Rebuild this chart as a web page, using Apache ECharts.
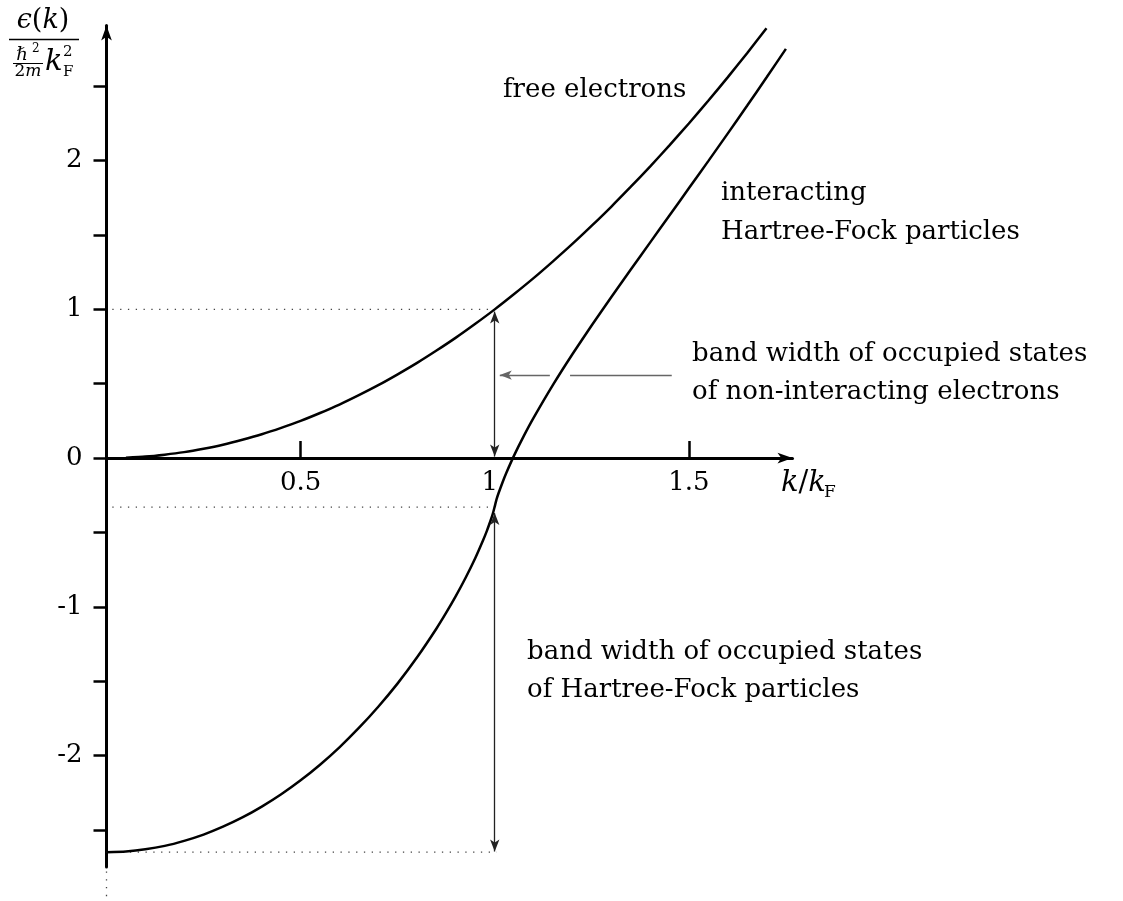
<!DOCTYPE html>
<html>
<head>
<meta charset="utf-8">
<script src="https://cdn.jsdelivr.net/npm/echarts@6/dist/echarts.min.js"></script>
<style>
html,body{margin:0;padding:0;background:#fff;}
#chart{width:1123px;height:901px;}
</style>
</head>
<body>
<div id="chart"></div>
<script>
// ---- data ----
const freeK = [0.05, 0.1, 0.15, 0.2, 0.25, 0.3, 0.35, 0.4, 0.45, 0.5, 0.55, 0.6, 0.65, 0.7, 0.75, 0.8, 0.85, 0.9, 0.95, 1.0, 1.05, 1.1, 1.15, 1.2, 1.25, 1.3, 1.35, 1.4, 1.45, 1.5, 1.55, 1.6, 1.65, 1.7];
const freeE = [0.003, 0.01, 0.023, 0.04, 0.063, 0.09, 0.123, 0.16, 0.203, 0.25, 0.303, 0.36, 0.423, 0.49, 0.563, 0.64, 0.723, 0.81, 0.903, 1.0, 1.103, 1.21, 1.323, 1.44, 1.563, 1.69, 1.823, 1.96, 2.103, 2.25, 2.403, 2.56, 2.723, 2.89];

const hfK = [0, 0.05, 0.1, 0.15, 0.2, 0.25, 0.3, 0.35, 0.4, 0.45, 0.5, 0.55, 0.6, 0.65, 0.7, 0.75, 0.8, 0.85, 0.875, 0.9, 0.925, 0.95, 0.97, 0.98, 0.99, 0.995, 1.0, 1.005, 1.01, 1.02, 1.03, 1.05, 1.075, 1.1, 1.15, 1.2, 1.25, 1.3, 1.35, 1.4, 1.45, 1.5, 1.55, 1.6, 1.65, 1.7, 1.75];
const hfE = [-2.65, -2.645, -2.631, -2.608, -2.574, -2.532, -2.479, -2.417, -2.344, -2.261, -2.167, -2.062, -1.945, -1.815, -1.672, -1.515, -1.340, -1.146, -1.040, -0.927, -0.805, -0.672, -0.553, -0.488, -0.415, -0.375, -0.325, -0.275, -0.235, -0.164, -0.099, 0.018, 0.149, 0.270, 0.492, 0.698, 0.893, 1.081, 1.266, 1.449, 1.631, 1.814, 1.997, 2.182, 2.369, 2.559, 2.752];

const xTickValues = [0.5, 1.5];
const xLabelValues = [0.5, 1, 1.5];
const yTickValues = [-2.5, -2, -1.5, -1, -0.5, 0, 0.5, 1, 1.5, 2, 2.5];
const yLabelValues = [-2, -1, 0, 1, 2];

// dotted guide lines [k, energy] endpoints
const guideFreeTop = [[0.015, 1], [0.99, 1]];
const guideHFatKF = [[0.015, -0.33], [0.985, -0.33]];
const guideHFbottom = [[0.0, -2.65], [1.005, -2.65]];
const axisExtension = [[0, -2.78], [0, -2.96]];

// arrows [k, energy] endpoints
const arrowFreeBand = [[1, 0.01], [1, 0.985]];
const arrowHFBand = [[1, -0.37], [1, -2.645]];
const pointerLevel = 0.558;
const pointerFar = [1.456, 1.194];
const pointerNear = [1.142, 1.013];

// ---- chart ----
const SERIF = '"DejaVu Serif", serif';
const zip = (a, b) => a.map((v, i) => [v, b[i]]);

const dotted = (pts) => ({
  type: 'line', data: pts, symbol: 'none', silent: true, clip: false, animation: false,
  lineStyle: { color: '#444', width: 1.3, type: [1.3, 6.5] }, z: 1
});

const chart = echarts.init(document.getElementById('chart'), null, { renderer: 'canvas' });

const option = {
  backgroundColor: '#fff',
  animation: false,
  grid: { left: 106.5, right: 330.5, top: 25.5, bottom: 34, containLabel: false },
  xAxis: {
    type: 'value', min: 0, max: 1.767,
    axisLine: { onZero: true, lineStyle: { color: '#000', width: 3 }, symbol: ['none', 'arrow'], symbolSize: [8, 15] },
    axisTick: { show: true, inside: true, length: 17, lineStyle: { color: '#000', width: 2.5 }, customValues: xTickValues },
    axisLabel: { show: false },
    splitLine: { show: false }
  },
  yAxis: {
    type: 'value', min: -2.75, max: 2.909,
    axisLine: { onZero: true, lineStyle: { color: '#000', width: 3 }, symbol: ['none', 'arrow'], symbolSize: [8, 15] },
    axisTick: { show: true, inside: false, length: 13, lineStyle: { color: '#000', width: 2.5 }, customValues: yTickValues },
    axisLabel: {
      customValues: yLabelValues, margin: 24,
      color: '#000', fontFamily: SERIF, fontSize: 26,
      formatter: v => String(v)
    },
    splitLine: { show: false }
  },
  series: [
    {
      name: 'free electrons', type: 'line', data: zip(freeK, freeE), symbol: 'none', clip: false,
      smooth: 0.2,
      lineStyle: { color: '#000', width: 2.5 }, z: 3
    },
    {
      name: 'Hartree-Fock', type: 'line', data: zip(hfK, hfE), symbol: 'none', clip: false,
      smooth: 0.2,
      lineStyle: { color: '#000', width: 2.5 }, z: 3
    },
    dotted(guideFreeTop),
    dotted(guideHFatKF),
    dotted(guideHFbottom),
    dotted(axisExtension),
    {
      // x-axis tick labels placed on the zero line through the axis scale
      type: 'scatter', data: xLabelValues.map(v => [v, 0]), symbol: 'circle', symbolSize: 0.5, silent: true, clip: false,
      itemStyle: { color: '#000', opacity: 1 },
      label: {
        show: true, position: 'bottom', distance: 12, opacity: 1,
        fontFamily: SERIF, fontSize: 26, color: '#000',
        formatter: p => String(p.value[0])
      },
      emphasis: { disabled: true },
      labelLayout: p => (p.dataIndex === 1 ? { dx: -5 } : {}),
      z: 4
    },
    {
      type: 'line', data: [], silent: true,
      markLine: {
        silent: true, animation: false, precision: 4,
        symbol: ['arrow', 'arrow'], symbolSize: [7, 12],
        label: { show: false },
        emphasis: { disabled: true },
        lineStyle: { color: '#222', width: 1.3, type: 'solid' },
        data: [
          [{ coord: arrowFreeBand[0] }, { coord: arrowFreeBand[1] }],
          [{ coord: arrowHFBand[0] }, { coord: arrowHFBand[1] }],
          [{ coord: [pointerFar[0], pointerLevel], symbol: 'none', lineStyle: { color: '#666', width: 1.3 } },
           { coord: [pointerFar[1], pointerLevel], symbol: 'none' }],
          [{ coord: [pointerNear[0], pointerLevel], symbol: 'none', lineStyle: { color: '#666', width: 1.3 } },
           { coord: [pointerNear[1], pointerLevel], symbol: 'arrow' }]
        ]
      }
    }
  ],
  graphic: [
    // y-axis label: fraction
    { type: 'text', x: 43, y: 21, style: { text: '{i|ϵ}{r|(}{i|k}{r|)}', align: 'center', verticalAlign: 'middle',
      rich: { i: { fontFamily: SERIF, fontStyle: 'italic', fontSize: 27, fill: '#000' }, r: { fontFamily: SERIF, fontSize: 27, fill: '#000' } } } },
    { type: 'line', shape: { x1: 9, y1: 39.5, x2: 79, y2: 39.5 }, style: { stroke: '#000', lineWidth: 1.3 } },
    { type: 'text', x: 22, y: 55, style: { text: 'ℏ', font: 'italic 18px ' + SERIF, fill: '#000', align: 'center', verticalAlign: 'middle' } },
    { type: 'text', x: 32, y: 49, style: { text: '2', font: '12px ' + SERIF, fill: '#000', align: 'left', verticalAlign: 'middle' } },
    { type: 'line', shape: { x1: 13, y1: 63.5, x2: 43, y2: 63.5 }, style: { stroke: '#000', lineWidth: 1 } },
    { type: 'text', x: 28, y: 72, style: { text: '{r|2}{i|m}', align: 'center', verticalAlign: 'middle',
      rich: { i: { fontFamily: SERIF, fontStyle: 'italic', fontSize: 17, fill: '#000' }, r: { fontFamily: SERIF, fontSize: 17, fill: '#000' } } } },
    { type: 'text', x: 45, y: 62, style: { text: 'k', font: 'italic 29px ' + SERIF, fill: '#000', align: 'left', verticalAlign: 'middle' } },
    { type: 'text', x: 63, y: 52, style: { text: '2', font: '15px ' + SERIF, fill: '#000', align: 'left', verticalAlign: 'middle' } },
    { type: 'text', x: 63, y: 72, style: { text: 'F', font: '15px ' + SERIF, fill: '#000', align: 'left', verticalAlign: 'middle' } },
    // x-axis label
    { type: 'text', x: 781, y: 483, style: { text: '{i|k}{r|/}{i|k}', align: 'left', verticalAlign: 'middle',
      rich: { i: { fontFamily: SERIF, fontStyle: 'italic', fontSize: 29, fill: '#000' }, r: { fontFamily: SERIF, fontSize: 29, fill: '#000' } } } },
    { type: 'text', x: 824, y: 493, style: { text: 'F', font: '17px ' + SERIF, fill: '#000', align: 'left', verticalAlign: 'middle' } },
    // annotations
    { type: 'text', x: 503, y: 90, style: { text: 'free electrons', font: '26px ' + SERIF, fill: '#000', align: 'left', verticalAlign: 'middle' } },
    { type: 'text', x: 721, y: 193, style: { text: 'interacting', font: '26px ' + SERIF, fill: '#000', align: 'left', verticalAlign: 'middle' } },
    { type: 'text', x: 721, y: 232, style: { text: 'Hartree-Fock particles', font: '26px ' + SERIF, fill: '#000', align: 'left', verticalAlign: 'middle' } },
    { type: 'text', x: 692, y: 354, style: { text: 'band width of occupied states', font: '26px ' + SERIF, fill: '#000', align: 'left', verticalAlign: 'middle' } },
    { type: 'text', x: 692, y: 392, style: { text: 'of non-interacting electrons', font: '26px ' + SERIF, fill: '#000', align: 'left', verticalAlign: 'middle' } },
    { type: 'text', x: 527, y: 652, style: { text: 'band width of occupied states', font: '26px ' + SERIF, fill: '#000', align: 'left', verticalAlign: 'middle' } },
    { type: 'text', x: 527, y: 690, style: { text: 'of Hartree-Fock particles', font: '26px ' + SERIF, fill: '#000', align: 'left', verticalAlign: 'middle' } }
  ]
};

chart.setOption(option);
</script>
</body>
</html>
